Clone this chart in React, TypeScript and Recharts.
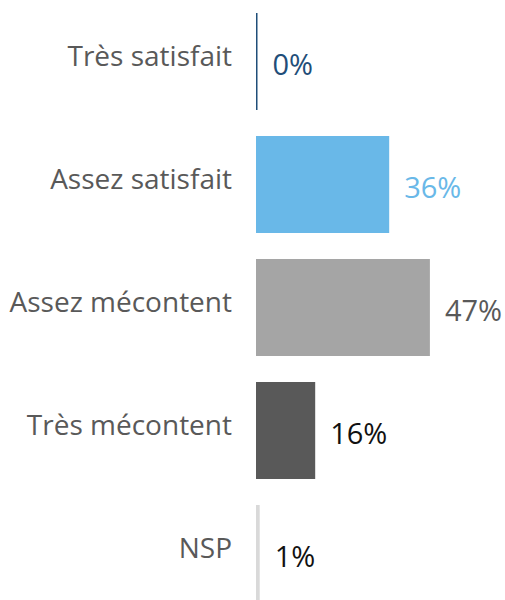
import React from 'react';
import { BarChart, Bar, XAxis, YAxis, Cell, LabelList } from 'recharts';

const categories = ['Très satisfait', 'Assez satisfait', 'Assez mécontent', 'Très mécontent', 'NSP'];
const values = [0, 36, 47, 16, 1];
const barColors = ['#1F4E79', '#69B8E8', '#A5A5A5', '#595959', '#D9D9D9'];
const labelColors = ['#1F4E79', '#69B8E8', '#595959', '#111111', '#111111'];

const data = categories.map((name, i) => ({ name, value: values[i] }));

const FONT = '"Open Sans", "Noto Sans", sans-serif';

const CategoryTick = ({ x, y, payload }: any) => (
    <text
        x={x - 16}
        y={y - 7}
        textAnchor="end"
        dominantBaseline="central"
        fill="#595959"
        fontSize={28}
        fontFamily={FONT}
    >
        {payload.value}
    </text>
);

const ValueLabel = ({ x, y, width, height, index }: any) => (
    <text
        x={x + Math.max(width, 1.5) + 15}
        y={y + height / 2 + 2}
        textAnchor="start"
        dominantBaseline="central"
        fill={labelColors[index]}
        fontSize={29}
        fontFamily={FONT}
    >
        {values[index]}%
    </text>
);

export default function App() {
    return (
        <div style={{ position: 'absolute', top: 0, left: 0, width: 505, height: 615, background: '#fff' }}>
            <BarChart
                width={505}
                height={615}
                data={data}
                layout="vertical"
                margin={{ top: 0, right: 0, bottom: 0, left: 0 }}
            >
                <XAxis type="number" hide domain={[0, 67.3]} />
                <YAxis
                    type="category"
                    dataKey="name"
                    width={256}
                    axisLine={false}
                    tickLine={false}
                    tick={<CategoryTick />}
                />
                <Bar dataKey="value" barSize={97} minPointSize={1.5} isAnimationActive={false}>
                    {data.map((d, i) => (
                        <Cell key={d.name} fill={barColors[i]} />
                    ))}
                    <LabelList dataKey="value" content={<ValueLabel />} />
                </Bar>
            </BarChart>
        </div>
    );
}
